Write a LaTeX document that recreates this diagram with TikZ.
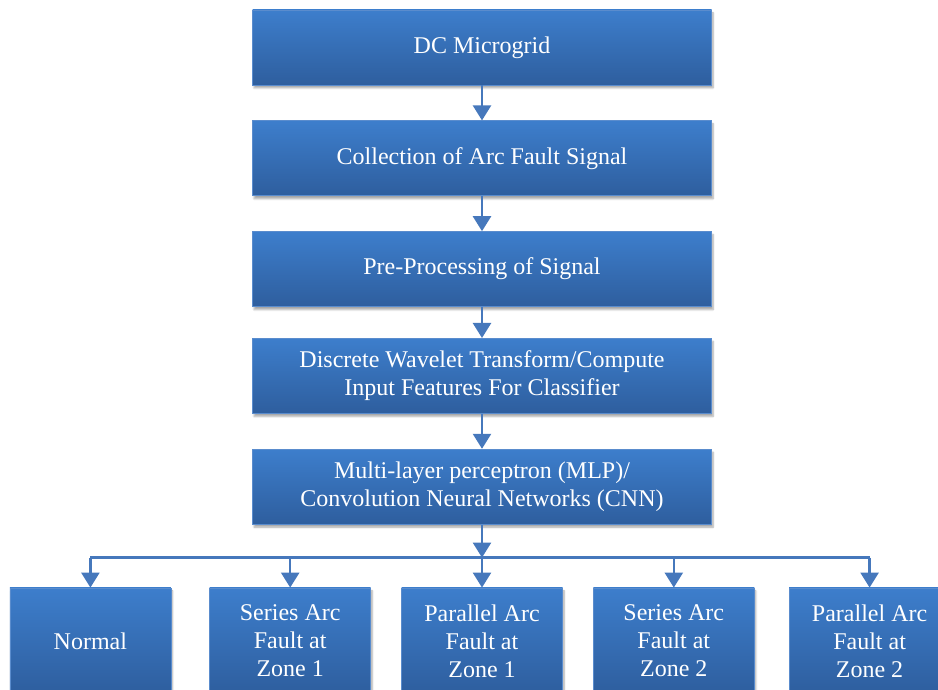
\documentclass[tikz,border=0pt]{standalone}
\usepackage{fontspec}
\setmainfont{Liberation Serif}
\usepackage{xcolor}
\usepackage{tikz}
\usetikzlibrary{arrows.meta,positioning,shadows.blur}

\definecolor{boxtop}{RGB}{61,126,204}
\definecolor{boxbot}{RGB}{46,94,158}
\definecolor{boxedge}{RGB}{90,140,205}
\definecolor{arrowblue}{RGB}{70,120,188}

\begin{document}
\begin{tikzpicture}[
  x=1pt, y=1pt,
  node distance=35pt,
  box/.style={draw=boxedge, line width=0.8pt, top color=boxtop, bottom color=boxbot,
    text=white, align=center, font=\rmfamily\fontsize{24}{28}\selectfont,
    blur shadow={shadow xshift=1.5pt, shadow yshift=-3pt, shadow blur steps=6, shadow opacity=35}},
  wide/.style={box, minimum width=459pt, minimum height=75pt},
  leaf/.style={box, minimum width=161pt, minimum height=106pt},
  link/.style={draw=arrowblue, line width=2.5pt},
  >={Triangle[width=18pt, length=15pt]}
]
  \useasboundingbox (0,0) rectangle (938,690);
  \clip (0,0) rectangle (938,690);

  % main chain
  \node[wide] (grid) at (482,642.5) {DC Microgrid};
  \node[wide, below=of grid] (collect) {Collection of Arc Fault Signal};
  \node[wide, below=of collect] (prep) {Pre-Processing of Signal};
  \node[wide, below=31pt of prep] (dwt) {Discrete Wavelet Transform/Compute\\Input Features For Classifier};
  \node[wide, below=of dwt] (mlp) {Multi-layer perceptron (MLP)/\\Convolution Neural Networks (CNN)};

  % classes
  \node[leaf, below=67pt of mlp, yshift=4pt] (par1) {Parallel Arc\\Fault at\\Zone 1};
  \node[leaf, left=30pt of par1] (ser1) {Series Arc\\Fault at\\Zone 1};
  \node[leaf, left=38pt of ser1] (normal) {Normal};
  \node[leaf, right=30pt of par1] (ser2) {Series Arc\\Fault at\\Zone 2};
  \node[leaf, right=34pt of ser2] (par2) {Parallel Arc\\Fault at\\Zone 2};

  \draw[link, ->] (grid) -- (collect);
  \draw[link, ->] (collect) -- (prep);
  \draw[link, ->] (prep) -- (dwt);
  \draw[link, ->] (dwt) -- (mlp);

  % bus to the classes
  \coordinate[below=33pt of mlp.south] (bus);
  \draw[link, ->] (mlp.south) -- (bus);
  \draw[link] (normal.north |- bus) -- (par2.north |- bus);
  \foreach \n in {normal, ser1, par1, ser2, par2}
    \draw[link, ->] (\n.north |- bus) -- (\n.north);
\end{tikzpicture}
\end{document}
